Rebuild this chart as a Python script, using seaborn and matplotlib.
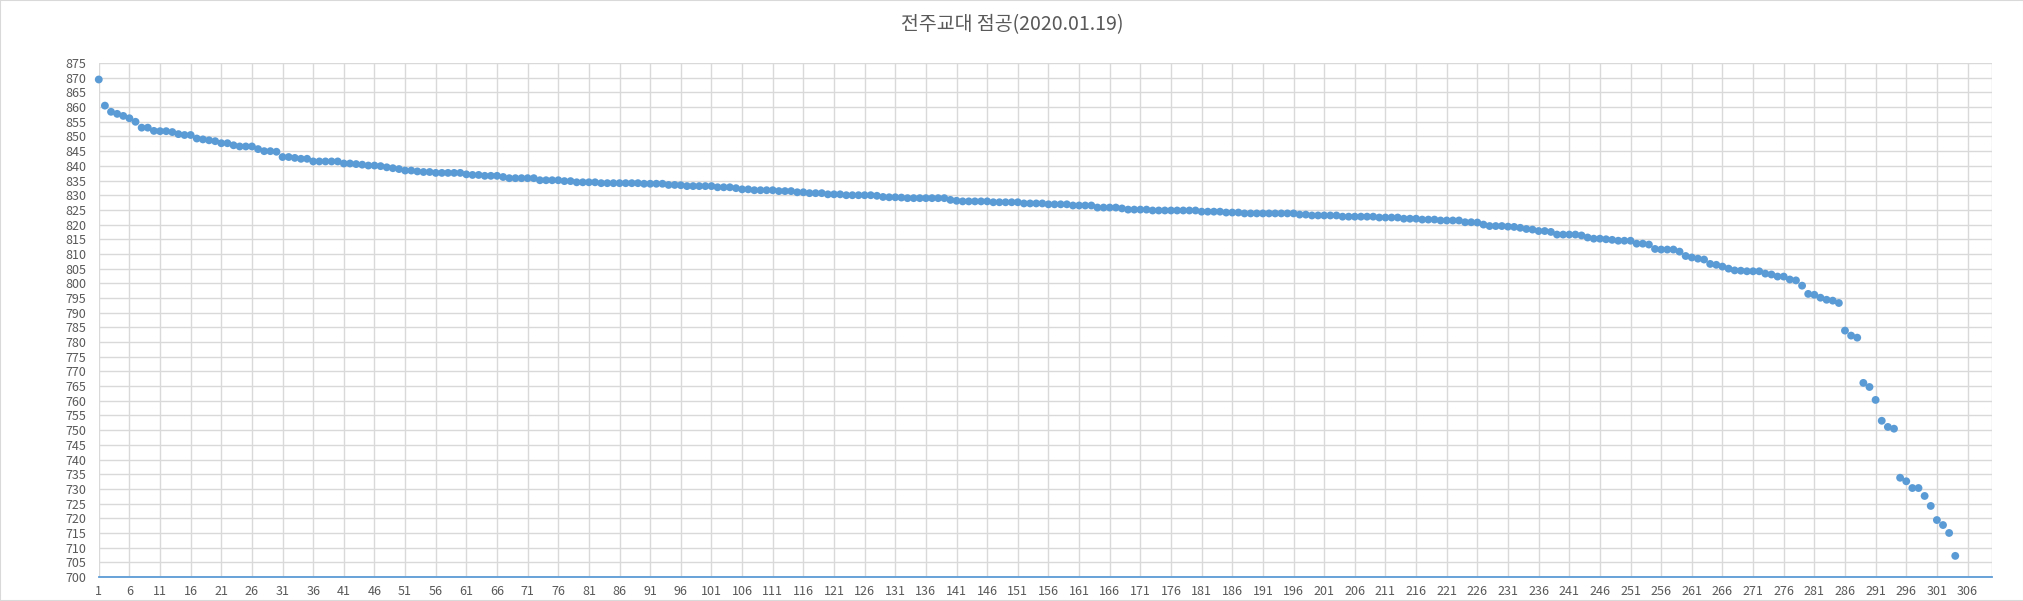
import pandas as pd
import matplotlib.pyplot as plt
import seaborn as sns
from matplotlib.patches import Rectangle

title = "전주교대 점공(2020.01.19)"

# 점수 (순위 1 ~ 304), 그림에서 읽은 값
scores = [
    869.4, 860.5, 858.4, 857.7, 857.0, 856.2, 855.0, 853.0, 853.0, 851.9,
    851.8, 851.8, 851.5, 850.8, 850.5, 850.5, 849.3, 849.0, 848.7, 848.4,
    847.7, 847.7, 847.0, 846.6, 846.6, 846.6, 845.7, 845.0, 845.0, 844.8,
    843.0, 843.0, 842.7, 842.4, 842.4, 841.5, 841.5, 841.5, 841.5, 841.5,
    840.8, 840.8, 840.6, 840.4, 840.1, 840.1, 839.9, 839.5, 839.2, 838.9,
    838.4, 838.4, 838.1, 837.9, 837.9, 837.6, 837.6, 837.6, 837.6, 837.6,
    837.1, 836.9, 836.9, 836.6, 836.6, 836.6, 836.2, 835.8, 835.8, 835.8,
    835.8, 835.8, 835.1, 835.1, 835.1, 835.1, 834.8, 834.8, 834.4, 834.4,
    834.4, 834.4, 834.1, 834.1, 834.1, 834.1, 834.1, 834.1, 834.1, 833.9,
    833.9, 833.9, 833.9, 833.5, 833.5, 833.4, 833.1, 833.1, 833.1, 833.1,
    833.1, 832.7, 832.7, 832.7, 832.4, 832.0, 832.0, 831.7, 831.7, 831.7,
    831.7, 831.4, 831.4, 831.4, 831.0, 831.0, 830.7, 830.7, 830.7, 830.3,
    830.3, 830.3, 830.0, 830.0, 830.0, 830.0, 830.0, 829.8, 829.4, 829.3,
    829.3, 829.2, 829.0, 829.0, 829.0, 829.0, 829.0, 829.0, 829.0, 828.4,
    828.1, 827.9, 827.9, 827.9, 827.9, 827.9, 827.6, 827.6, 827.6, 827.6,
    827.6, 827.2, 827.2, 827.2, 827.2, 826.9, 826.9, 826.9, 826.9, 826.5,
    826.5, 826.5, 826.5, 825.8, 825.8, 825.8, 825.8, 825.5, 825.1, 825.1,
    825.1, 825.1, 824.8, 824.8, 824.8, 824.8, 824.8, 824.8, 824.8, 824.8,
    824.4, 824.4, 824.4, 824.4, 824.1, 824.1, 824.1, 823.8, 823.8, 823.8,
    823.8, 823.8, 823.8, 823.8, 823.8, 823.8, 823.4, 823.4, 823.1, 823.1,
    823.1, 823.1, 823.1, 822.7, 822.7, 822.7, 822.7, 822.7, 822.7, 822.4,
    822.4, 822.4, 822.4, 822.0, 822.0, 822.0, 821.7, 821.7, 821.7, 821.4,
    821.4, 821.4, 821.4, 820.8, 820.8, 820.7, 820.0, 819.5, 819.5, 819.5,
    819.3, 819.2, 818.9, 818.5, 818.3, 817.8, 817.8, 817.5, 816.6, 816.6,
    816.6, 816.6, 816.3, 815.6, 815.2, 815.2, 815.0, 814.8, 814.5, 814.5,
    814.5, 813.5, 813.5, 813.2, 811.7, 811.5, 811.5, 811.5, 810.8, 809.3,
    808.8, 808.4, 808.1, 806.6, 806.3, 805.7, 805.0, 804.4, 804.3, 804.1,
    804.1, 804.1, 803.3, 803.0, 802.3, 802.3, 801.3, 801.0, 799.2, 796.4,
    796.1, 795.1, 794.4, 794.1, 793.3, 783.9, 782.2, 781.5, 766.1, 764.7,
    760.3, 753.2, 751.1, 750.5, 733.8, 732.6, 730.3, 730.3, 727.6, 724.2,
    719.4, 717.7, 715.0, 707.2,
]
ranks = list(range(1, len(scores) + 1))
x_ticks = list(range(1, 307, 5))
y_ticks = list(range(700, 876, 5))

df = pd.DataFrame({"순위": ranks, "점수": scores})

sns.set_style("white")
plt.rcParams["font.family"] = ["Noto Sans CJK KR", "DejaVu Sans"]

fig = plt.figure(figsize=(20.24, 6.01), dpi=100)
ax = fig.add_axes([0.0488, 0.0399, 0.9354, 0.8552])

sns.scatterplot(data=df, x="순위", y="점수", ax=ax, color="#5B9BD5",
                s=32, edgecolor="none", linewidth=0, zorder=3, clip_on=False)

ax.set_xlim(1, 310)
ax.set_ylim(700, 875)
ax.set_xticks(x_ticks)
ax.set_yticks(y_ticks)
ax.tick_params(length=0, labelsize=9, labelcolor="#595959")
ax.tick_params(axis="y", pad=9)
ax.tick_params(axis="x", pad=6)
ax.grid(True, color="#D9D9D9", linewidth=1)
ax.axvline(310, color="#D9D9D9", linewidth=1)
ax.set_axisbelow(True)
for side in ["top", "right", "left"]:
    ax.spines[side].set_visible(False)
ax.spines["bottom"].set_color("#5B9BD5")
ax.spines["bottom"].set_linewidth(1.3)
ax.set_xlabel("")
ax.set_ylabel("")

fig.text(0.5, 1 - 24.5 / 601, title, ha="center", va="center",
         fontsize=14, color="#595959")
fig.patches.append(Rectangle((0, 0), 1, 1, transform=fig.transFigure,
                             fill=False, edgecolor="#D9D9D9", linewidth=1.5))

fig.savefig("out.png", dpi=100)
